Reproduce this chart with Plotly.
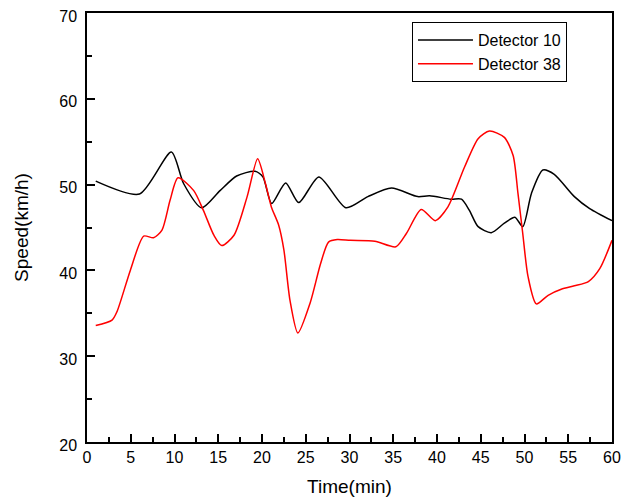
import plotly.graph_objects as go

# Detector 10 (black)
t10 = [1, 6.0, 9.64, 11.05, 13.1, 15.2, 17.1, 19.2, 20.1, 21.1, 22.7, 24.2, 26.5, 29.6,
       32.1, 34.8, 37.8, 39.15, 41.6, 42.8, 43.7, 44.7, 46.2, 47.7, 48.9, 49.8, 50.8, 52.1, 53.4,
       55.7, 57.45, 60]
v10 = [50.4, 48.9, 53.8, 50.1, 47.3, 49.3, 51.0, 51.55, 50.9, 47.8, 50.2, 47.9, 50.9, 47.3,
       48.6, 49.6, 48.6, 48.7, 48.3, 48.3, 47.0, 45.1, 44.4, 45.5, 46.2, 45.1, 49.0, 51.7, 51.2,
       48.6, 47.2, 45.8]

# Detector 38 (red)
t38 = [1, 2.86, 3.43, 4.95, 6.48, 7.6, 8.57, 9.5, 10.4, 12.2, 13.3, 14.5, 15.4, 16.8, 18.3, 19.5,
       20.4, 21.07, 21.9, 22.5, 23.2, 24.1, 25.5, 26.7, 27.6, 28.6, 30.1, 32.9, 35.3, 36.5, 38.2,
       39.8, 41.25, 43.15, 44.7, 46.0, 47.7, 48.7, 49.25, 49.8, 50.4, 51.35, 52.7, 54.2, 55.7,
       57.3, 58.6, 60]
v38 = [33.57, 34.2, 35.2, 40.0, 44.0, 43.8, 44.7, 48.2, 50.8, 49.3, 47.0, 44.1, 42.9, 44.1, 48.6, 53.0,
       50.1, 47.4, 45.3, 42.4, 36.5, 32.7, 36.2, 40.8, 43.3, 43.6, 43.5, 43.4, 42.75, 44.3, 47.1,
       45.8, 47.4, 52.05, 55.35, 56.25, 55.5, 53.4, 49.0, 44.3, 39.3, 36.1, 37.1, 37.8, 38.2,
       38.7, 40.2, 43.5]

font = "Liberation Sans, Arial, sans-serif"

fig = go.Figure()
fig.add_trace(go.Scatter(x=t10, y=v10, mode="lines", name="Detector 10",
                         line=dict(color="black", width=1.5, shape="spline", smoothing=0.7)))
fig.add_trace(go.Scatter(x=t38, y=v38, mode="lines", name="Detector 38",
                         line=dict(color="red", width=1.5, shape="spline", smoothing=0.7)))

fig.update_layout(
    width=624, height=492,
    margin=dict(l=79, r=20, t=5, b=58, autoexpand=False),
    paper_bgcolor="white", plot_bgcolor="white",
    font=dict(family=font, size=16, color="black"),
    showlegend=True,
    legend=dict(x=0.619, y=0.979, xanchor="left", yanchor="top",
                bordercolor="black", borderwidth=1, bgcolor="white",
                font=dict(size=16, family=font), tracegroupgap=0, itemwidth=55),
)
fig.update_xaxes(range=[0, 60], tickmode="linear", tick0=0, dtick=5, automargin=False,
                 showline=True, linecolor="black", linewidth=1.5, mirror=True,
                 ticks="inside", ticklen=8, tickwidth=1.5, tickcolor="black",
                 ticklabeloverflow="allow",
                 minor=dict(dtick=2.5, ticks="inside", ticklen=5, tickwidth=1.5, tickcolor="black", showgrid=False),
                 showgrid=False, zeroline=False,
                 title=dict(text="Time(min)", font=dict(size=19, family=font), standoff=15),
                 tickfont=dict(size=16, family=font))
fig.update_yaxes(range=[20, 70], tickmode="linear", tick0=20, dtick=10, automargin=False,
                 showline=True, linecolor="black", linewidth=1.5, mirror=True,
                 ticks="inside", ticklen=8, tickwidth=1.5, tickcolor="black", ticklabelstandoff=5,
                 ticklabelshift=3, ticklabeloverflow="allow",
                 minor=dict(dtick=5, ticks="inside", ticklen=5, tickwidth=1.5, tickcolor="black", showgrid=False),
                 showgrid=False, zeroline=False,
                 title=dict(text="Speed(km/h)", font=dict(size=19, family=font), standoff=26),
                 tickfont=dict(size=16, family=font))

fig.write_html("out.html")
